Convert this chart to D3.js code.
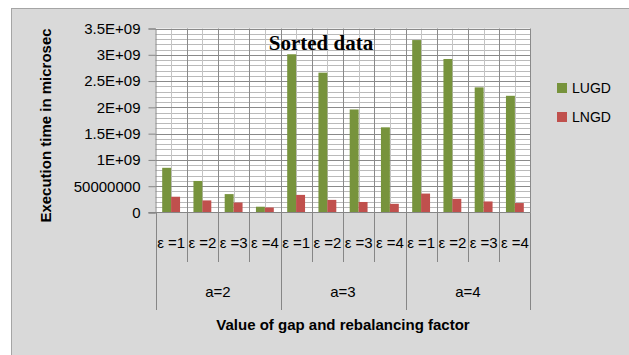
<!DOCTYPE html>
<html>
<head>
<meta charset="utf-8">
<script src="https://cdn.jsdelivr.net/npm/d3@7"></script>
<style>
  html, body { margin: 0; padding: 0; background: #ffffff; }
  svg { display: block; }
  text { font-family: "Liberation Sans", Arial, sans-serif; fill: #000; }
  text.title { font-family: "Liberation Serif", "Times New Roman", serif; font-weight: bold; }
</style>
</head>
<body>
<svg id="chart" width="629" height="355"></svg>
<script>
// ---- data ----
const epsLabels = ["ε =1", "ε =2", "ε =3", "ε =4"];
const groups = ["a=2", "a=3", "a=4"];
const seriesNames = ["LUGD", "LNGD"];
const seriesColors = ["#77933c", "#c0504d"];
const lugd = [0.85e9, 0.60e9, 0.35e9, 0.11e9, 3.01e9, 2.66e9, 1.96e9, 1.62e9, 3.28e9, 2.92e9, 2.38e9, 2.22e9];
const lngd = [0.30e9, 0.23e9, 0.19e9, 0.095e9, 0.335e9, 0.24e9, 0.20e9, 0.165e9, 0.36e9, 0.26e9, 0.21e9, 0.18e9];
const yTickValues = [0, 0.5e9, 1e9, 1.5e9, 2e9, 2.5e9, 3e9, 3.5e9];
const yTickLabels = ["0", "50000000", "1E+09", "1.5E+09", "2E+09", "2.5E+09", "3E+09", "3.5E+09"];

// one row per (group, epsilon) category
const cats = [];
groups.forEach((g, gi) => epsLabels.forEach((e, ei) => cats.push({ key: g + "|" + e, group: g, eps: e, i: gi * epsLabels.length + ei })));
const rows = cats.map(c => ({ key: c.key, values: [lugd[c.i], lngd[c.i]] }));

const svg = d3.select("#chart");

// chart area
svg.append("rect").attr("x", 11.5).attr("y", 8.5).attr("width", 640).attr("height", 360)
  .attr("fill", "#d9d9d9").attr("stroke", "#a5a5a5").attr("stroke-width", 1);

const plotLeft = 155.5, plotRight = 530.5, plotTop = 28.5, plotBottom = 212.5;

const x = d3.scaleBand().domain(cats.map(c => c.key)).range([plotLeft, plotRight]).paddingInner(0).paddingOuter(0);
const xs = d3.scaleBand().domain([0, 1]).range([0, x.bandwidth()]).paddingInner(0).paddingOuter(0.75);
const y = d3.scaleLinear().domain([0, 3.5e9]).range([plotBottom, plotTop]);

// plot background
svg.append("rect").attr("x", plotLeft).attr("y", plotTop).attr("width", plotRight - plotLeft)
  .attr("height", plotBottom - plotTop).attr("fill", "#ffffff");

// minor horizontal gridlines
const minor = d3.range(1, 35).map(k => k * 1e8).filter(v => v % 5e8 !== 0);
svg.append("g").selectAll("line").data(minor).join("line")
  .attr("x1", plotLeft).attr("x2", plotRight)
  .attr("y1", d => Math.round(y(d)) + 0.5).attr("y2", d => Math.round(y(d)) + 0.5)
  .attr("stroke", "#bababa").attr("stroke-width", 1);

// minor vertical gridlines at category centres
svg.append("g").selectAll("line").data(cats).join("line")
  .attr("x1", d => Math.round(x(d.key) + x.bandwidth() / 2) + 0.5)
  .attr("x2", d => Math.round(x(d.key) + x.bandwidth() / 2) + 0.5)
  .attr("y1", plotTop).attr("y2", plotBottom)
  .attr("stroke", "#c4c4c4").attr("stroke-width", 1);

// major horizontal gridlines
svg.append("g").selectAll("line").data(yTickValues.slice(1)).join("line")
  .attr("x1", plotLeft).attr("x2", plotRight)
  .attr("y1", d => Math.round(y(d)) + 0.5).attr("y2", d => Math.round(y(d)) + 0.5)
  .attr("stroke", "#8a8a8a").attr("stroke-width", 1);

// major vertical gridlines at category boundaries
svg.append("g").selectAll("line").data(cats.slice(1).concat([{ key: null }])).join("line")
  .attr("x1", d => d.key ? Math.round(x(d.key)) + 0.5 : plotRight)
  .attr("x2", d => d.key ? Math.round(x(d.key)) + 0.5 : plotRight)
  .attr("y1", plotTop).attr("y2", plotBottom)
  .attr("stroke", "#8a8a8a").attr("stroke-width", 1);

// bars
const bars = svg.append("g").selectAll("g").data(rows).join("g")
  .attr("transform", d => `translate(${x(d.key)},0)`);
bars.selectAll("rect").data(d => d.values.map((v, s) => ({ v, s }))).join("rect")
  .attr("x", d => xs(d.s)).attr("width", xs.bandwidth())
  .attr("y", d => y(d.v)).attr("height", d => plotBottom - y(d.v))
  .attr("fill", d => seriesColors[d.s]);

// y axis
const yAxis = d3.axisLeft(y).tickValues(yTickValues).tickSize(7).tickPadding(8)
  .tickFormat((d, i) => yTickLabels[i]);
const ya = svg.append("g").attr("transform", `translate(${plotLeft},0)`).call(yAxis);
ya.select(".domain").attr("stroke", "#868686");
ya.selectAll(".tick line").attr("stroke", "#868686");
ya.selectAll(".tick text").style("font-size", "15px").style("fill", "#000");

// x axis baseline
svg.append("line").attr("x1", plotLeft - 7).attr("x2", plotRight).attr("y1", plotBottom).attr("y2", plotBottom).attr("stroke", "#868686");

// category separators below the axis
const boundaries = d3.range(0, cats.length + 1);
const bx = i => i < cats.length ? Math.round(x(cats[i].key)) + 0.5 : plotRight;
svg.append("g").selectAll("line").data(boundaries).join("line")
  .attr("x1", bx).attr("x2", bx)
  .attr("y1", plotBottom).attr("y2", i => i % epsLabels.length === 0 ? 310 : 262)
  .attr("stroke", "#868686").attr("stroke-width", 1);

// epsilon labels
svg.append("g").selectAll("text").data(cats).join("text")
  .attr("x", d => x(d.key) + x.bandwidth() / 2).attr("y", 247.5)
  .attr("text-anchor", "middle").style("font-size", "15px")
  .text(d => d.eps);

// group labels
svg.append("g").selectAll("text").data(groups).join("text")
  .attr("x", (g, gi) => (x(cats[gi * 4].key) + x(cats[gi * 4 + 3].key) + x.bandwidth()) / 2)
  .attr("y", 296.5).attr("text-anchor", "middle").style("font-size", "15px")
  .text(d => d);

// axis titles
svg.append("text").attr("x", (plotLeft + plotRight) / 2).attr("y", 330).attr("text-anchor", "middle")
  .style("font-size", "15px").style("font-weight", "bold").text("Value of gap and rebalancing factor");
svg.append("text").attr("transform", "translate(51,125.5) rotate(-90)").attr("text-anchor", "middle")
  .style("font-size", "15px").style("font-weight", "bold").text("Execution time in microsec");

// chart title
svg.append("text").attr("class", "title").attr("x", 321).attr("y", 50).attr("text-anchor", "middle")
  .style("font-size", "21px")
  .text("Sorted data");

// legend
const legend = svg.append("g").selectAll("g").data(seriesNames).join("g")
  .attr("transform", (d, i) => `translate(557,${83 + i * 29})`);
legend.append("rect").attr("width", 10).attr("height", 10).attr("fill", (d, i) => seriesColors[i]);
legend.append("text").attr("x", 15).attr("y", 10.3).style("font-size", "14px").text(d => d);
</script>
</body>
</html>
